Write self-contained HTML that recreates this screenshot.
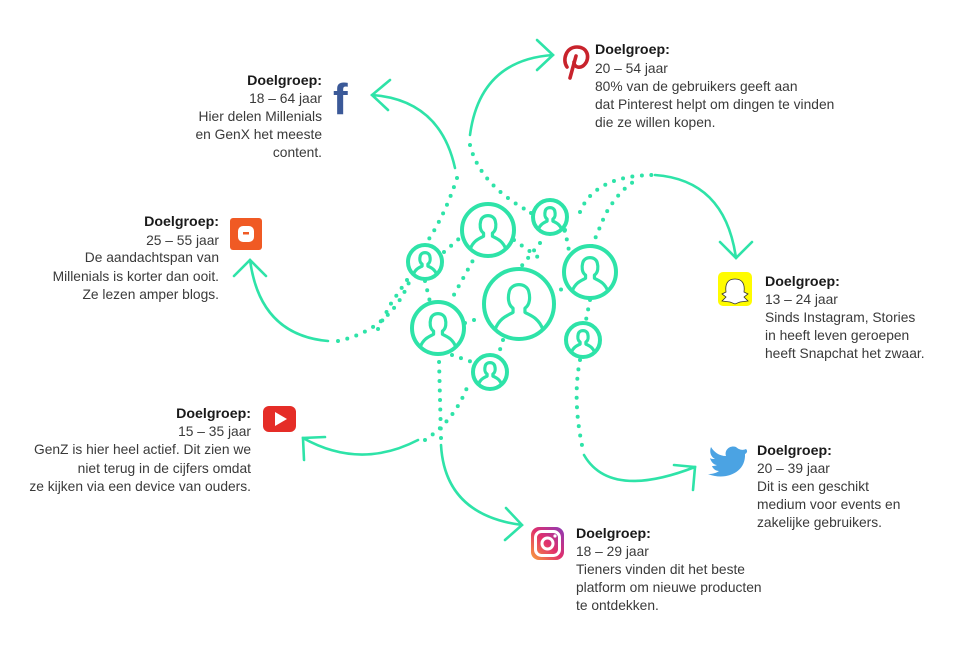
<!DOCTYPE html>
<html><head><meta charset="utf-8"><style>
html,body{margin:0;padding:0;background:#fff;}
svg{display:block}
text{font-family:"Liberation Sans",sans-serif;font-size:13.8px;fill:#3a3a3a}
.b{font-weight:bold;fill:#1a1a1a;font-size:14.2px}
</style></head><body>
<svg width="970" height="651" viewBox="0 0 970 651" xmlns="http://www.w3.org/2000/svg">
<defs>
<linearGradient id="ig" x1="0" y1="1" x2="1" y2="0">
<stop offset="0" stop-color="#f9a13a"/><stop offset="0.5" stop-color="#e1306c"/><stop offset="1" stop-color="#8a3ab9"/></linearGradient>
</defs>
<g fill="none" stroke="#2ee3a8" stroke-width="2.6" stroke-linecap="round">
<path d="M372,95 Q440,100 455,168"/>
<path d="M390,80 L372,95 L388,110"/>
<path d="M470,135 Q480,60 553,55"/>
<path d="M537,40 L553,55 L537,70"/>
<path d="M655,175 Q725,180 736,258"/>
<path d="M720,242 L736,258 L752,242"/>
<path d="M250,260 Q260,335 328,341"/>
<path d="M234,276 L250,260 L266,276"/>
<path d="M303,438 Q360,470 418,440"/>
<path d="M325,437 L303,438 L304,460"/>
<path d="M441,445 Q445,515 522,525"/>
<path d="M506,508 L522,525 L505,540"/>
<path d="M584,455 Q610,500 695,467"/>
<path d="M674,465 L695,467 L693,490"/>
</g>
<g fill="none" stroke="#2ee3a8" stroke-width="4" stroke-linecap="round" stroke-dasharray="0 9.5">
<path d="M457,178 Q445,215 427,242"/>
<path d="M470,145 Q480,185 530,212"/>
<path d="M580,212 Q595,175 655,175"/>
<path d="M338,341 Q390,330 410,280"/>
<path d="M425,440 Q455,420 468,385"/>
<path d="M441,438 L439,360"/>
<path d="M580,360 Q572,400 583,450"/>
<path d="M444,252 L462,236"/>
<path d="M514,240 L542,260"/>
<path d="M565,230 L570,256"/>
<path d="M531,213 L565,231"/>
<path d="M425,281 L430,302"/>
<path d="M465,323 L483,317"/>
<path d="M477,253 L450,302"/>
<path d="M452,355 L472,362"/>
<path d="M503,340 L498,356"/>
<path d="M540,243 L520,268"/>
<path d="M590,300 L586,320"/>
<path d="M568,283 L555,295"/>
<path d="M592,246 L605,215 Q620,188 640,178"/>
<path d="M407,280 L390,305 L375,335"/>
</g>
<g fill="#fff" stroke="#2ee3a8" stroke-width="4">
<circle cx="519" cy="304" r="35"/>
<circle cx="488" cy="230" r="26"/>
<circle cx="550" cy="217" r="17"/>
<circle cx="425" cy="262" r="17"/>
<circle cx="590" cy="272" r="26"/>
<circle cx="438" cy="328" r="26"/>
<circle cx="490" cy="372" r="17"/>
<circle cx="583" cy="340" r="17"/>
</g>
<g fill="none" stroke="#2ee3a8" stroke-width="3.2" stroke-linejoin="round">
<g transform="translate(519,304) scale(35)"><path vector-effect="non-scaling-stroke" d="M-0.68,0.72 C-0.55,0.38 -0.3,0.32 -0.17,0.24 L-0.17,0.12 C-0.32,0.02 -0.32,-0.2 -0.28,-0.35 C-0.22,-0.62 0.22,-0.62 0.28,-0.35 C0.32,-0.2 0.32,0.02 0.17,0.12 L0.17,0.24 C0.3,0.32 0.55,0.38 0.68,0.72"/></g>
<g transform="translate(488,230) scale(26)"><path vector-effect="non-scaling-stroke" d="M-0.68,0.72 C-0.55,0.38 -0.3,0.32 -0.17,0.24 L-0.17,0.12 C-0.32,0.02 -0.32,-0.2 -0.28,-0.35 C-0.22,-0.62 0.22,-0.62 0.28,-0.35 C0.32,-0.2 0.32,0.02 0.17,0.12 L0.17,0.24 C0.3,0.32 0.55,0.38 0.68,0.72"/></g>
<g transform="translate(590,272) scale(26)"><path vector-effect="non-scaling-stroke" d="M-0.68,0.72 C-0.55,0.38 -0.3,0.32 -0.17,0.24 L-0.17,0.12 C-0.32,0.02 -0.32,-0.2 -0.28,-0.35 C-0.22,-0.62 0.22,-0.62 0.28,-0.35 C0.32,-0.2 0.32,0.02 0.17,0.12 L0.17,0.24 C0.3,0.32 0.55,0.38 0.68,0.72"/></g>
<g transform="translate(438,328) scale(26)"><path vector-effect="non-scaling-stroke" d="M-0.68,0.72 C-0.55,0.38 -0.3,0.32 -0.17,0.24 L-0.17,0.12 C-0.32,0.02 -0.32,-0.2 -0.28,-0.35 C-0.22,-0.62 0.22,-0.62 0.28,-0.35 C0.32,-0.2 0.32,0.02 0.17,0.12 L0.17,0.24 C0.3,0.32 0.55,0.38 0.68,0.72"/></g>
<g transform="translate(550,217) scale(17)"><path vector-effect="non-scaling-stroke" d="M-0.68,0.72 C-0.55,0.38 -0.3,0.32 -0.17,0.24 L-0.17,0.12 C-0.32,0.02 -0.32,-0.2 -0.28,-0.35 C-0.22,-0.62 0.22,-0.62 0.28,-0.35 C0.32,-0.2 0.32,0.02 0.17,0.12 L0.17,0.24 C0.3,0.32 0.55,0.38 0.68,0.72"/></g>
<g transform="translate(425,262) scale(17)"><path vector-effect="non-scaling-stroke" d="M-0.68,0.72 C-0.55,0.38 -0.3,0.32 -0.17,0.24 L-0.17,0.12 C-0.32,0.02 -0.32,-0.2 -0.28,-0.35 C-0.22,-0.62 0.22,-0.62 0.28,-0.35 C0.32,-0.2 0.32,0.02 0.17,0.12 L0.17,0.24 C0.3,0.32 0.55,0.38 0.68,0.72"/></g>
<g transform="translate(490,372) scale(17)"><path vector-effect="non-scaling-stroke" d="M-0.68,0.72 C-0.55,0.38 -0.3,0.32 -0.17,0.24 L-0.17,0.12 C-0.32,0.02 -0.32,-0.2 -0.28,-0.35 C-0.22,-0.62 0.22,-0.62 0.28,-0.35 C0.32,-0.2 0.32,0.02 0.17,0.12 L0.17,0.24 C0.3,0.32 0.55,0.38 0.68,0.72"/></g>
<g transform="translate(583,340) scale(17)"><path vector-effect="non-scaling-stroke" d="M-0.68,0.72 C-0.55,0.38 -0.3,0.32 -0.17,0.24 L-0.17,0.12 C-0.32,0.02 -0.32,-0.2 -0.28,-0.35 C-0.22,-0.62 0.22,-0.62 0.28,-0.35 C0.32,-0.2 0.32,0.02 0.17,0.12 L0.17,0.24 C0.3,0.32 0.55,0.38 0.68,0.72"/></g>
</g>
<!-- icons -->
<text x="333" y="114" style="font-size:44px;font-weight:bold;fill:#3b5998">f</text>
<rect x="230" y="218" width="32" height="32" rx="3" fill="#f05a24"/>
<rect x="238" y="226" width="16" height="16" rx="5" fill="#fff"/>
<rect x="243" y="232" width="6" height="2.5" fill="#f05a24"/>
<path d="M567,67 C562,60 566,47 577,47 C588,47 590,58 585,64 C581,69 574,68 574,62" fill="none" stroke="#c8232c" stroke-width="3.6" stroke-linecap="round"/>
<path d="M576,56 L570,78" stroke="#c8232c" stroke-width="3.6" stroke-linecap="round"/>
<rect x="718" y="272" width="34" height="34" rx="5" fill="#fffc00"/>
<path d="M735,279 C727,279 725,285 726,292 L722,294 L726,297 L722,301 L730,302 L735,304 L740,302 L748,301 L744,297 L748,294 L744,292 C745,285 743,279 735,279Z" fill="#fff" stroke="#333" stroke-width="0.8"/>
<rect x="263" y="406" width="33" height="26" rx="6" fill="#e52d27"/>
<path d="M275,412 L275,426 L287,419Z" fill="#fff"/>
<path d="M746,449 C742,451 738,449 736,447 C730,445 724,450 726,456 C719,456 714,452 711,447 C709,452 711,457 715,459 C713,459 711,459 710,458 C711,462 714,465 717,465 C715,466 713,466 712,466 C713,469 716,471 719,471 C716,473 713,474 708,474 C725,481 746,473 745,454 C747,453 748,451 746,449Z" fill="#4ba3e3"/>
<rect x="531" y="527" width="33" height="33" rx="8" fill="url(#ig)"/>
<rect x="535.5" y="531.5" width="24" height="24" rx="6" fill="none" stroke="#fff" stroke-width="3"/>
<circle cx="547.5" cy="543.5" r="5.5" fill="none" stroke="#fff" stroke-width="3"/>
<circle cx="555" cy="536" r="1.6" fill="#fff"/>
<!-- texts -->
<g text-anchor="end">
<text x="322" y="85" class="b">Doelgroep:</text>
<text x="322" y="103">18  – 64 jaar</text>
<text x="322" y="121">Hier delen Millenials</text>
<text x="322" y="139">en GenX het meeste</text>
<text x="322" y="157">content.</text>
<text x="219" y="226" class="b">Doelgroep:</text>
<text x="219" y="245">25  – 55 jaar</text>
<text x="219" y="262">De aandachtspan van</text>
<text x="219" y="281">Millenials is korter dan ooit.</text>
<text x="219" y="299">Ze lezen amper blogs.</text>
<text x="251" y="418" class="b">Doelgroep:</text>
<text x="251" y="436">15  – 35 jaar</text>
<text x="251" y="454">GenZ is hier heel actief. Dit zien we</text>
<text x="251" y="473">niet terug in de cijfers omdat</text>
<text x="251" y="491">ze kijken via een device van ouders.</text>
</g>
<text x="595" y="54" class="b">Doelgroep:</text>
<text x="595" y="73">20 – 54 jaar</text>
<text x="595" y="91">80% van de gebruikers geeft aan</text>
<text x="595" y="109">dat Pinterest helpt om dingen te vinden</text>
<text x="595" y="127">die ze willen kopen.</text>
<text x="765" y="286" class="b">Doelgroep:</text>
<text x="765" y="304">13 – 24 jaar</text>
<text x="765" y="322">Sinds Instagram, Stories</text>
<text x="765" y="340">in heeft leven geroepen</text>
<text x="765" y="358">heeft Snapchat het zwaar.</text>
<text x="757" y="455" class="b">Doelgroep:</text>
<text x="757" y="473">20 – 39 jaar</text>
<text x="757" y="491">Dit is een geschikt</text>
<text x="757" y="509">medium voor events en</text>
<text x="757" y="527">zakelijke gebruikers.</text>
<text x="576" y="538" class="b">Doelgroep:</text>
<text x="576" y="556">18 – 29 jaar</text>
<text x="576" y="574">Tieners vinden dit het beste</text>
<text x="576" y="592">platform om nieuwe producten</text>
<text x="576" y="610">te ontdekken.</text>
</svg>
</body></html>
